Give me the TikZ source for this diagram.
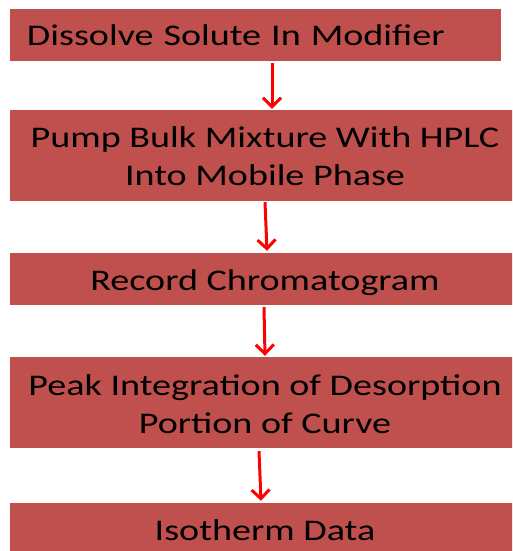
\documentclass[tikz,border=0pt]{standalone}
\usepackage{fontspec}
\setmainfont{Carlito}[FakeStretch=1.27]
\usepackage{tikz}
\usetikzlibrary{arrows.meta,positioning,calc}
\usepackage{xcolor}
\definecolor{boxred}{HTML}{C0504D}

\begin{document}
\begin{tikzpicture}[x=1pt,y=-1pt,
    stepbox/.style={fill=boxred, inner sep=0pt, minimum height=52pt,
        font=\fontsize{30}{38}\selectfont, text height=22pt, text depth=0pt},
    flow/.style={-{Straight Barb[length=9pt,width=18pt]}, red, line width=3pt}]
                    % Page frame
                    \useasboundingbox (0,0) rectangle (512,551);
                    \clip (0,0) rectangle (512,551);

                    % Steps
                    \node[stepbox, minimum width=491pt, text width=457pt, align=left]
                        (dissolve) at (255.5,35) {Dissolve Solute In Modifier};
                    \node[stepbox, minimum width=510pt, minimum height=91pt, align=center, text height=61pt, text depth=2pt]
                        (pump) at (265,155.5) {Pump Bulk Mixture With HPLC\\Into Mobile Phase};
                    \node[stepbox, minimum width=510pt]
                        (record) at (265,279) {Record Chromatogram};
                    \node[stepbox, minimum width=510pt, minimum height=91pt, align=center, text height=61pt, text depth=0pt]
                        (peak) at (265,402.5) {Peak Integration of Desorption\\Portion of Curve};
                    \node[stepbox, minimum width=510pt]
                        (isotherm) at (265,529) {Isotherm Data};

                    % Arrows between steps
                    \draw[flow] ([xshift=16.5pt,yshift=-2pt]dissolve.south) -- ([xshift=7pt,yshift=1pt]pump.north);
                    \draw[flow] ([yshift=-1pt]pump.south) -- ([xshift=2pt,yshift=2pt]record.north);
                    \draw[flow] ([xshift=-1pt,yshift=-2pt]record.south) -- ([yshift=1pt]peak.north);
                    \draw[flow] ([xshift=-6pt,yshift=-3pt]peak.south) -- ([xshift=-4pt,yshift=2pt]isotherm.north);
                \end{tikzpicture}
\end{document}
